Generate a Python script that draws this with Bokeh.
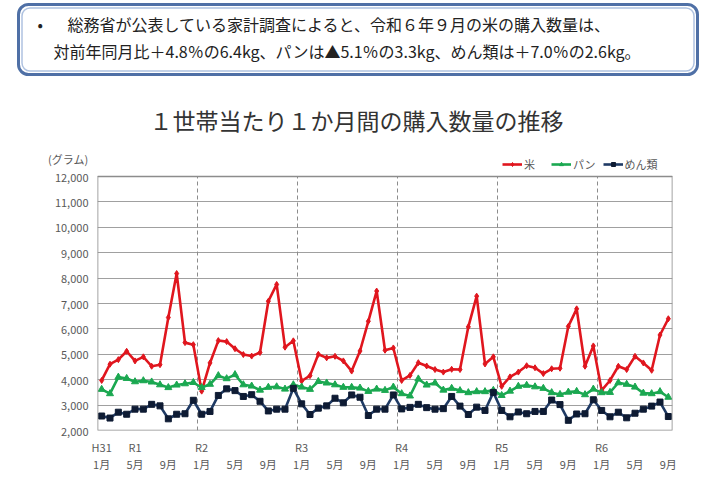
from bokeh.plotting import figure
from bokeh.layouts import column
from bokeh.models import (ColumnDataSource, FixedTicker, NumeralTickFormatter, LinearAxis,
                          Range1d, Label, BoxAnnotation, Legend, LegendItem)
from bokeh.embed import file_html
from bokeh.resources import INLINE

# ---------------- data ----------------
# monthly purchase quantity per household (grams), H31/2019-01 .. R6/2024-09
months = ([1, 2, 3, 4, 5, 6, 7, 8, 9, 10, 11, 12] * 5) + [1, 2, 3, 4, 5, 6, 7, 8, 9]
rice = [3970, 4610, 4790, 5120, 4740, 4900, 4530, 4590, 6450, 8180, 5460, 5380,
        3550, 4660, 5540, 5500, 5220, 4990, 4930, 5070, 7090, 7750, 5280, 5530,
        3950, 4160, 5000, 4860, 4920, 4740, 4340, 5130, 6300, 7490, 5160, 5250,
        3970, 4170, 4670, 4540, 4400, 4300, 4410, 4400, 6080, 7290, 4620, 4900,
        3740, 4110, 4300, 4550, 4470, 4240, 4430, 4450, 6100, 6790, 4530, 5330,
        3580, 3970, 4530, 4400, 4920, 4660, 4370, 5760, 6400]
bread = [3620, 3450, 4100, 4050, 3920, 3960, 3910, 3800, 3690, 3790, 3840, 3890,
         3690, 3820, 4160, 4040, 4200, 3800, 3750, 3590, 3700, 3720, 3630, 3800,
         3710, 3620, 3930, 3870, 3800, 3700, 3700, 3670, 3540, 3630, 3580, 3710,
         3450, 3360, 4030, 3790, 3870, 3590, 3660, 3570, 3490, 3530, 3530, 3580,
         3380, 3550, 3740, 3780, 3720, 3660, 3490, 3420, 3510, 3540, 3410, 3630,
         3490, 3500, 3880, 3820, 3710, 3470, 3450, 3530, 3310]
noodles = [2570, 2490, 2720, 2640, 2840, 2840, 3030, 2970, 2460, 2640, 2660, 3190,
           2640, 2750, 3380, 3640, 3570, 3340, 3410, 3150, 2770, 2840, 2840, 3660,
           3050, 2630, 2880, 2970, 3270, 3090, 3400, 3310, 2590, 2840, 2840, 3400,
           2850, 2910, 3030, 2900, 2840, 2860, 3340, 2960, 2630, 2920, 2790, 3500,
           2790, 2540, 2730, 2660, 2750, 2750, 3200, 3020, 2400, 2650, 2660, 3210,
           2790, 2540, 2720, 2500, 2680, 2840, 2960, 3120, 2550]
series_names = ["米", "パン", "めん類"]
era_positions = [0, 4, 12, 24, 36, 48, 60]
era_labels = ["H31", "R1", "R2", "R3", "R4", "R5", "R6"]
month_tick_months = [1, 5, 9]
y_ticks = [2000, 3000, 4000, 5000, 6000, 7000, 8000, 9000, 10000, 11000, 12000]

title_text = "１世帯当たり１か月間の購入数量の推移"
header_line1 = "総務省が公表している家計調査によると、令和６年９月の米の購入数量は、"
header_line2 = "対前年同月比＋4.8％の6.4kg、パンは▲5.1％の3.3kg、めん類は＋7.0％の2.6kg。"
unit_text = "(グラム)"

# ---------------- style ----------------
FONT = "Noto Sans CJK JP"
RED = "#E0161E"
GREEN = "#1BA851"
NAVY = "#1F3A64"
NAVY_MK = "#0E1B33"
GRID = "#A0A0A0"
BORDER = "#8C8C8C"
TXT = "#595959"

W, H = 714, 478
TOP_H = 150                       # height of the header figure
FL, FT, FR, FB = 97, 176, 672, 430  # plot area (12,000 .. 2,000) in page pixels

# ---------------- header figure ----------------
top = figure(width=W, height=TOP_H, output_backend="svg", toolbar_location=None,
             x_range=Range1d(0, W), y_range=Range1d(TOP_H, 0),
             min_border=0, min_border_left=0, min_border_right=0,
             min_border_top=0, min_border_bottom=0)
top.frame_align = False
top.axis.visible = False
top.grid.visible = False
top.outline_line_color = None
top.background_fill_color = "white"
top.border_fill_color = "white"

top.add_layout(BoxAnnotation(left=18, right=697, top=4, bottom=74,
                             fill_color="white", fill_alpha=1, line_color="#4F70A6",
                             line_alpha=1, line_width=3, border_radius=10))
top.add_layout(BoxAnnotation(left=21.5, right=693.5, top=7.5, bottom=70.5,
                             fill_alpha=0, line_color="#AFC2E0", line_alpha=1,
                             line_width=1.5, border_radius=8))
top.add_layout(Label(x=37, y=23, text="•", text_font=FONT, text_font_size="16px",
                     text_color="#222222", text_baseline="middle", text_align="left"))
top.add_layout(Label(x=67, y=23, text=header_line1, text_font=FONT, text_font_size="16px",
                     text_color="#222222", text_baseline="middle", text_align="left"))
top.add_layout(Label(x=53, y=50, text=header_line2, text_font=FONT, text_font_size="16px",
                     text_color="#222222", text_baseline="middle", text_align="left"))
top.add_layout(Label(x=356, y=119, text=title_text, text_font=FONT, text_font_size="23px",
                     text_color="#333333", text_baseline="middle", text_align="center"))

# ---------------- chart figure ----------------
CH = H - TOP_H
frame_top_page = TOP_H
px_per_unit = (FB - FT) / (y_ticks[-1] - y_ticks[0])
y_end = y_ticks[0] + (FB - frame_top_page) / px_per_unit
unit_tick = round(y_ticks[-1] + (FT - 157) / px_per_unit)

x = list(range(len(rice)))
src = ColumnDataSource(dict(x=x, rice=rice, bread=bread, noodles=noodles))

p = figure(width=W, height=CH, output_backend="svg", toolbar_location=None,
           x_range=Range1d(-0.5, len(rice) - 0.5), y_range=Range1d(y_ticks[0], y_end),
           min_border_left=FL, min_border_right=W - FR,
           min_border_top=0, min_border_bottom=H - FB)
p.frame_align = False
p.background_fill_color = "white"
p.border_fill_color = "white"
p.outline_line_color = None
p.xgrid.visible = False
p.ygrid.ticker = FixedTicker(ticks=y_ticks)
p.ygrid.grid_line_color = GRID
p.ygrid.grid_line_width = 1.2

# y axis (with the unit shown as the topmost label)
ya = p.yaxis[0]
ya.ticker = FixedTicker(ticks=y_ticks + [unit_tick])
ya.formatter = NumeralTickFormatter(format="0,0")
ya.major_label_overrides = {unit_tick: unit_text}
ya.axis_line_color = None
ya.major_tick_line_color = None
ya.minor_tick_line_color = None
ya.major_tick_out = 0
ya.major_tick_in = 0
ya.major_label_standoff = 9
ya.major_label_text_font = FONT
ya.major_label_text_font_size = "11px"
ya.major_label_text_color = TXT

# x axis: era row
xa = p.xaxis[0]
xa.ticker = FixedTicker(ticks=era_positions)
xa.major_label_overrides = {pos: lab for pos, lab in zip(era_positions, era_labels)}
xa.axis_line_color = None
xa.major_tick_line_color = None
xa.minor_tick_line_color = None
xa.major_tick_out = 0
xa.major_tick_in = 0
xa.major_label_standoff = 8
xa.major_label_text_font = FONT
xa.major_label_text_font_size = "11px"
xa.major_label_text_color = TXT

# x axis: month row
mpos = [i for i, m in enumerate(months) if m in month_tick_months]
xa2 = LinearAxis(ticker=FixedTicker(ticks=mpos),
                 major_label_overrides={i: f"{months[i]}月" for i in mpos})
xa2.axis_line_color = None
xa2.major_tick_line_color = None
xa2.minor_tick_line_color = None
xa2.major_tick_out = 0
xa2.major_tick_in = 0
xa2.major_label_standoff = -2
xa2.major_label_text_font = FONT
xa2.major_label_text_font_size = "11px"
xa2.major_label_text_color = TXT
p.add_layout(xa2, "below")

# plot-area border (2,000 .. 12,000)
p.add_layout(BoxAnnotation(left=-0.5, right=len(rice) - 0.5, bottom=y_ticks[0], top=y_ticks[-1],
                           fill_alpha=0, line_color=BORDER, line_alpha=1, line_width=1.6))

# year boundaries (dashed)
bx = [i - 0.5 for i in range(1, len(months)) if months[i] == 1]
p.segment(x0=bx, x1=bx, y0=[y_ticks[0]] * len(bx), y1=[y_ticks[-1]] * len(bx),
          line_color=BORDER, line_dash="4 3", line_width=1)

# series
rl = p.line("x", "rice", source=src, line_color=RED, line_width=2.6)
rm = p.scatter("x", "rice", source=src, marker="diamond", size=6, color=RED)
bl = p.line("x", "bread", source=src, line_color=GREEN, line_width=2.6)
bm = p.scatter("x", "bread", source=src, marker="triangle", size=7, color=GREEN)
nl = p.line("x", "noodles", source=src, line_color=NAVY, line_width=2.6)
nm = p.scatter("x", "noodles", source=src, marker="square", size=6, color=NAVY_MK)

legend = Legend(items=[LegendItem(label=series_names[0], renderers=[rl, rm]),
                       LegendItem(label=series_names[1], renderers=[bl, bm]),
                       LegendItem(label=series_names[2], renderers=[nl, nm])],
                orientation="horizontal", location=(502 - FL, FB - 172),
                border_line_color=None, background_fill_alpha=0,
                label_text_font=FONT, label_text_font_size="11px", label_text_color=TXT,
                glyph_width=20, glyph_height=10, label_standoff=2, spacing=7,
                padding=1, margin=0)
p.add_layout(legend)

open("out.html", "w").write(file_html(column(top, p, spacing=0), INLINE))
